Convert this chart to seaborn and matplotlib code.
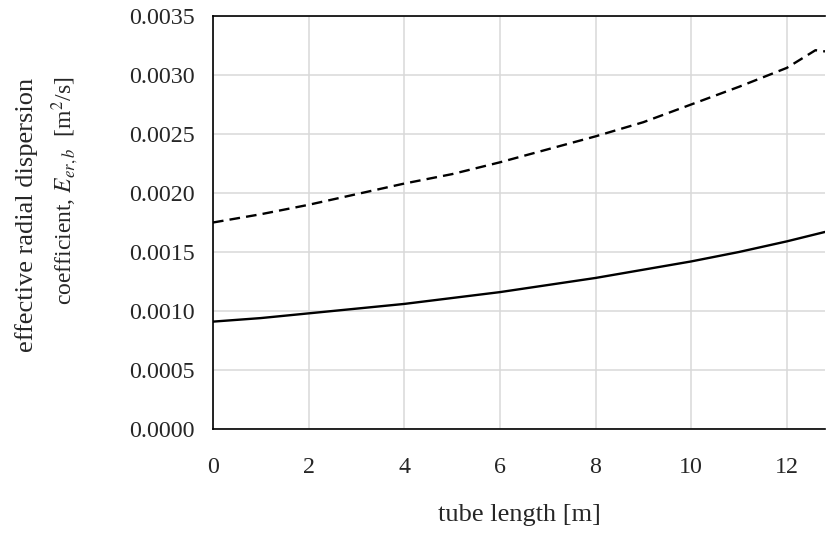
import numpy as np
import pandas as pd
import matplotlib
matplotlib.use("Agg")
import matplotlib.pyplot as plt
import seaborn as sns

# data
length_solid = [0, 1, 2, 3, 4, 5, 6, 7, 8, 9, 10, 11, 12, 12.8]
coef_solid = [0.00091, 0.00094, 0.00098, 0.00102, 0.00106, 0.00111, 0.00116,
              0.00122, 0.00128, 0.00135, 0.00142, 0.00150, 0.00159, 0.00167]
length_dashed = [0, 1, 2, 3, 4, 5, 6, 7, 8, 9, 10, 11, 12, 12.6, 12.8]
coef_dashed = [0.00175, 0.00182, 0.00190, 0.00199, 0.00208, 0.00216, 0.00226,
               0.00237, 0.00248, 0.00260, 0.00275, 0.00290, 0.00306, 0.00321, 0.00320]
xticks = [0, 2, 4, 6, 8, 10, 12]
yticks = [0.0, 0.0005, 0.0010, 0.0015, 0.0020, 0.0025, 0.0030, 0.0035]
ytick_labels = ["0.0000", "0.0005", "0.0010", "0.0015", "0.0020", "0.0025", "0.0030", "0.0035"]

sns.set_style("white")
plt.rcParams['font.family'] = ['Liberation Serif', 'DejaVu Serif']
plt.rcParams['mathtext.fontset'] = 'stix'

fs_tick = 17.3
fs_lab = 19
fig = plt.figure(figsize=(8.26, 5.38), dpi=100)
ax = fig.add_axes([213/826, 1 - 429/538, (825 - 213)/826, (429 - 16)/538])

df_s = pd.DataFrame({"x": length_solid, "y": coef_solid})
df_d = pd.DataFrame({"x": length_dashed, "y": coef_dashed})
sns.lineplot(data=df_s, x="x", y="y", ax=ax, color="black", linewidth=1.7, zorder=3)
sns.lineplot(data=df_d, x="x", y="y", ax=ax, color="black", linewidth=1.7,
             dashes=False, zorder=3).lines[-1].set_dashes((4.5, 2.6))

ax.set_xlim(0, 12.8)
ax.set_ylim(0, 0.0035)
ax.set_xticks(xticks)
ax.set_xticklabels([str(t) for t in xticks], fontsize=fs_tick)
ax.set_yticks(yticks)
ax.set_yticklabels(ytick_labels, fontsize=fs_tick)
ax.grid(True, color="#d9d9d9", linewidth=1.1)
ax.set_axisbelow(True)
for side in ["left", "bottom", "top"]:
    ax.spines[side].set_color("black")
    ax.spines[side].set_linewidth(1.2)
ax.spines["right"].set_visible(False)
ax.tick_params(axis="y", direction="out", length=5, width=1, color="#444444", pad=8)
ax.tick_params(axis="x", direction="out", length=5, width=1, color="#444444", pad=15)

ax.set_xlabel("tube length [m]", fontsize=fs_lab, labelpad=19)
ax.set_ylabel("")
fig.text(27/826, 1 - 215/538, "effective radial dispersion", rotation=90,
         ha="center", va="center", fontsize=fs_lab)
fig.text(65/826, 1 - 191/538, r"coefficient, $E_{er,b}$  [m$^2$/s]", rotation=90,
         ha="center", va="center", fontsize=17)

fig.savefig("out.png", dpi=100)
